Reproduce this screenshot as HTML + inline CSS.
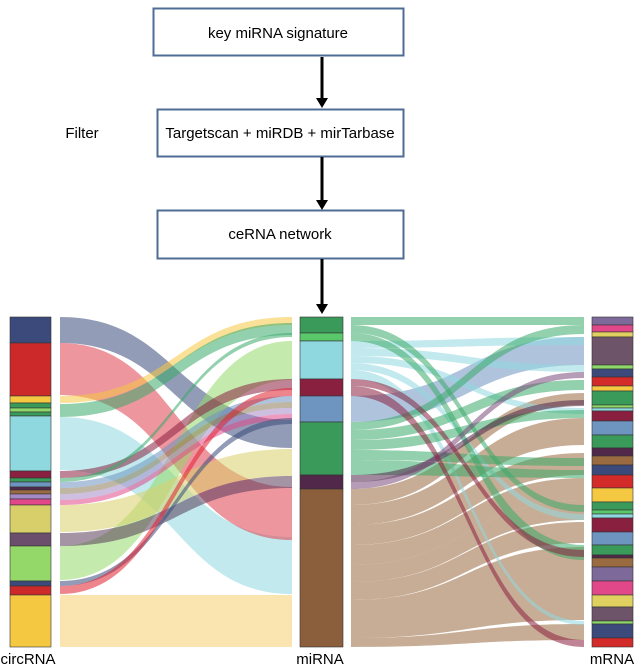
<!DOCTYPE html>
<html><head><meta charset="utf-8"><style>
html,body{margin:0;padding:0;background:#fff;}
svg{display:block;font-family:"Liberation Sans",Arial,sans-serif;}
</style></head><body>
<svg width="640" height="667" viewBox="0 0 640 667" xmlns="http://www.w3.org/2000/svg">
<defs><marker id="ah" markerWidth="8" markerHeight="8" refX="4" refY="7" orient="auto" markerUnits="userSpaceOnUse"><path d="M0,0 L8,0 L4,8 Z" fill="#000"/></marker></defs>
<!-- boxes -->
<rect x="153.5" y="8.5" width="250" height="47" fill="#fff" stroke="#4f6d94" stroke-width="2"/>
<text x="278" y="38" font-size="15" text-anchor="middle">key miRNA signature</text>
<rect x="157.5" y="109.5" width="246" height="47" fill="#fff" stroke="#4f6d94" stroke-width="2"/>
<text x="280" y="138" font-size="15" text-anchor="middle">Targetscan + miRDB + mirTarbase</text>
<text x="82" y="138" font-size="15" text-anchor="middle">Filter</text>
<rect x="157.5" y="210.5" width="246" height="48" fill="#fff" stroke="#4f6d94" stroke-width="2"/>
<text x="280" y="239" font-size="15" text-anchor="middle">ceRNA network</text>
<g stroke="#000" stroke-width="3">
<line x1="322" y1="57" x2="322" y2="100"/><line x1="322" y1="157" x2="322" y2="202"/><line x1="322" y1="259" x2="322" y2="306"/></g>
<g fill="#000"><path d="M316,98 L328,98 L322,108 Z"/><path d="M316,200 L328,200 L322,210 Z"/><path d="M316,304 L328,304 L322,314 Z"/></g>

<!-- left flows x 60->292 -->
<g fill-opacity="0.55">
<path d="M60,595 L292,595 L292,647 L60,647 Z" fill="#f5d070"/>
<path d="M60,417 C176,417 176,537 292,537 L292,594 C176,594 176,470 60,470 Z" fill="#8fd8e0"/>
<path d="M60,343 C176,343 176,487 292,487 L292,540 C176,540 176,395 60,395 Z" fill="#e0404f"/>
<path d="M60,317 C176,317 176,420 292,420 L292,448 C176,448 176,343 60,343 Z" fill="#3b4a7a"/>
<path d="M60,546 C176,546 176,341 292,341 L292,380 C176,380 176,580 60,580 Z" fill="#95d86a"/>
<path d="M60,505 C176,505 176,449 292,449 L292,476 C176,476 176,532 60,532 Z" fill="#d9cf6a"/>
<path d="M60,533 C176,533 176,476 292,476 L292,488 C176,488 176,546 60,546 Z" fill="#5a3c5a"/>
<path d="M60,396 C176,396 176,317 292,317 L292,325 C176,325 176,403 60,403 Z" fill="#f5c842"/>
<path d="M60,404 C176,404 176,323 292,323 L292,335 C176,335 176,417 60,417 Z" fill="#3aaa6a"/>
<path d="M60,471 C176,471 176,379 292,379 L292,390 C176,390 176,478 60,478 Z" fill="#8a2040"/>
<path d="M60,478 C176,478 176,333 292,333 L292,337 C176,337 176,482 60,482 Z" fill="#3aaa6a"/>
<path d="M60,482 C176,482 176,396 292,396 L292,402 C176,402 176,488 60,488 Z" fill="#6e94c0"/>
<path d="M60,488 C176,488 176,402 292,402 L292,408 C176,408 176,494 60,494 Z" fill="#8a7a5a"/>
<path d="M60,494 C176,494 176,408 292,408 L292,414 C176,414 176,500 60,500 Z" fill="#a58ac8"/>
<path d="M60,500 C176,500 176,414 292,414 L292,420 C176,420 176,505 60,505 Z" fill="#e0488a"/>
<path d="M60,581 C176,581 176,418 292,418 L292,424 C176,424 176,586 60,586 Z" fill="#3b4a7a"/>
<path d="M60,586 C176,586 176,388 292,388 L292,396 C176,396 176,594 60,594 Z" fill="#e0202f"/>
</g>

<!-- right flows x 351->584 -->
<g fill-opacity="0.55">
<path d="M351,489 C467,489 467,393 584,393 L584,405 C467,405 467,505 351,505 Z" fill="#9a6a40"/>
<path d="M351,505 C467,505 467,418 584,418 L584,445 C467,445 467,525 351,525 Z" fill="#9a6a40"/>
<path d="M351,525 C467,525 467,453 584,453 L584,475 C467,475 467,545 351,545 Z" fill="#9a6a40"/>
<path d="M351,545 C467,545 467,478 584,478 L584,500 C467,500 467,565 351,565 Z" fill="#9a6a40"/>
<path d="M351,565 C467,565 467,500 584,500 L584,520 C467,520 467,582 351,582 Z" fill="#9a6a40"/>
<path d="M351,582 C467,582 467,522 584,522 L584,543 C467,543 467,600 351,600 Z" fill="#9a6a40"/>
<path d="M351,600 C467,600 467,547 584,547 L584,620 C467,620 467,638 351,638 Z" fill="#9a6a40"/>
<path d="M351,638 C467,638 467,624 584,624 L584,640 C467,640 467,647 351,647 Z" fill="#9a6a40"/>
<path d="M351,317 L584,317 L584,325 L351,325 Z" fill="#3aaa6a"/>
<path d="M351,396 C467,396 467,337 584,337 L584,365 C467,365 467,422 351,422 Z" fill="#6e94c0"/>
<path d="M351,341 C467,341 467,337 584,337 L584,345 C467,345 467,348 351,348 Z" fill="#8fd8e0"/>
<path d="M351,348 C467,348 467,365 584,365 L584,372 C467,372 467,356 351,356 Z" fill="#8fd8e0"/>
<path d="M351,356 C467,356 467,408 584,408 L584,414 C467,414 467,363 351,363 Z" fill="#8fd8e0"/>
<path d="M351,363 C467,363 467,514 584,514 L584,520 C467,520 467,370 351,370 Z" fill="#8fd8e0"/>
<path d="M351,370 C467,370 467,621 584,621 L584,625 C467,625 467,379 351,379 Z" fill="#8fd8e0"/>
<path d="M351,325 C467,325 467,505 584,505 L584,512 C467,512 467,333 351,333 Z" fill="#3aaa6a"/>
<path d="M351,333 C467,333 467,545 584,545 L584,560 C467,560 467,341 351,341 Z" fill="#3aaa6a"/>
<path d="M351,422 C467,422 467,325 584,325 L584,334 C467,334 467,430 351,430 Z" fill="#3aaa6a"/>
<path d="M351,430 C467,430 467,380 584,380 L584,390 C467,390 467,440 351,440 Z" fill="#3aaa6a"/>
<path d="M351,440 C467,440 467,410 584,410 L584,418 C467,418 467,450 351,450 Z" fill="#3aaa6a"/>
<path d="M351,450 C467,450 467,458 584,458 L584,466 C467,466 467,460 351,460 Z" fill="#3aaa6a"/>
<path d="M351,460 C467,460 467,470 584,470 L584,478 C467,478 467,475 351,475 Z" fill="#3aaa6a"/>
<path d="M351,475 C467,475 467,400 584,400 L584,406 C467,406 467,482 351,482 Z" fill="#52284a"/>
<path d="M351,482 C467,482 467,372 584,372 L584,378 C467,378 467,489 351,489 Z" fill="#7a4a7a"/>
<path d="M351,379 C467,379 467,550 584,550 L584,557 C467,557 467,386 351,386 Z" fill="#8a2040"/>
<path d="M351,386 C467,386 467,640 584,640 L584,647 C467,647 467,396 351,396 Z" fill="#8a2040"/>
</g>

<!-- bars -->
<g stroke="#333" stroke-width="0.6">
<rect x="10" y="317" width="41" height="26" fill="#3b4a7a"/>
<rect x="10" y="343" width="41" height="53" fill="#cc2a2a"/>
<rect x="10" y="396" width="41" height="7" fill="#f5c842"/>
<rect x="10" y="403" width="41" height="5" fill="#3a9a5a"/>
<rect x="10" y="408" width="41" height="4" fill="#8ed86a"/>
<rect x="10" y="412" width="41" height="4" fill="#3a9a5a"/>
<rect x="10" y="416" width="41" height="55" fill="#8fd8e0"/>
<rect x="10" y="471" width="41" height="7" fill="#8a2040"/>
<rect x="10" y="478" width="41" height="4" fill="#3a9a5a"/>
<rect x="10" y="482" width="41" height="5" fill="#6e94c0"/>
<rect x="10" y="487" width="41" height="3" fill="#52284a"/>
<rect x="10" y="490" width="41" height="4" fill="#9a6a40"/>
<rect x="10" y="494" width="41" height="5" fill="#a58ac8"/>
<rect x="10" y="499" width="41" height="6" fill="#e0488a"/>
<rect x="10" y="505" width="41" height="28" fill="#d9cf6a"/>
<rect x="10" y="533" width="41" height="13" fill="#6b4e6b"/>
<rect x="10" y="546" width="41" height="35" fill="#95d86a"/>
<rect x="10" y="581" width="41" height="5" fill="#3b4a7a"/>
<rect x="10" y="586" width="41" height="9" fill="#cc2a2a"/>
<rect x="10" y="595" width="41" height="52" fill="#f5c842"/>

<rect x="300" y="317" width="43" height="16" fill="#3a9a5a"/>
<rect x="300" y="333" width="43" height="8" fill="#5ac86a"/>
<rect x="300" y="341" width="43" height="38" fill="#8fd8e0"/>
<rect x="300" y="379" width="43" height="17" fill="#8a2040"/>
<rect x="300" y="396" width="43" height="26" fill="#6e94c0"/>
<rect x="300" y="422" width="43" height="53" fill="#3a9a5a"/>
<rect x="300" y="475" width="43" height="14" fill="#52284a"/>
<rect x="300" y="489" width="43" height="158" fill="#8b5e3c"/>

<rect x="592" y="317" width="41" height="8" fill="#7d6a9a"/>
<rect x="592" y="325" width="41" height="7" fill="#e0488a"/>
<rect x="592" y="332" width="41" height="5" fill="#e0d060"/>
<rect x="592" y="337" width="41" height="28" fill="#6e5468"/>
<rect x="592" y="365" width="41" height="4" fill="#8ed86a"/>
<rect x="592" y="369" width="41" height="8" fill="#3b4a7a"/>
<rect x="592" y="377" width="41" height="9" fill="#d32a2a"/>
<rect x="592" y="386" width="41" height="5" fill="#f5c842"/>
<rect x="592" y="391" width="41" height="14" fill="#3a9a5a"/>
<rect x="592" y="405" width="41" height="3" fill="#8ed86a"/>
<rect x="592" y="408" width="41" height="3" fill="#8fd8e0"/>
<rect x="592" y="411" width="41" height="10" fill="#8a2040"/>
<rect x="592" y="421" width="41" height="14" fill="#6e94c0"/>
<rect x="592" y="435" width="41" height="13" fill="#3a9a5a"/>
<rect x="592" y="448" width="41" height="8" fill="#52284a"/>
<rect x="592" y="456" width="41" height="9" fill="#9a6a40"/>
<rect x="592" y="465" width="41" height="10" fill="#3b4a7a"/>
<rect x="592" y="475" width="41" height="13" fill="#d32a2a"/>
<rect x="592" y="488" width="41" height="14" fill="#f5c842"/>
<rect x="592" y="502" width="41" height="8" fill="#3a9a5a"/>
<rect x="592" y="510" width="41" height="4" fill="#5ac86a"/>
<rect x="592" y="514" width="41" height="4" fill="#8fd8e0"/>
<rect x="592" y="518" width="41" height="14" fill="#8a2040"/>
<rect x="592" y="532" width="41" height="13" fill="#6e94c0"/>
<rect x="592" y="545" width="41" height="10" fill="#3a9a5a"/>
<rect x="592" y="555" width="41" height="3" fill="#52284a"/>
<rect x="592" y="558" width="41" height="9" fill="#9a6a40"/>
<rect x="592" y="567" width="41" height="14" fill="#7d6a9a"/>
<rect x="592" y="581" width="41" height="14" fill="#e0488a"/>
<rect x="592" y="595" width="41" height="12" fill="#e0d060"/>
<rect x="592" y="607" width="41" height="14" fill="#6e5468"/>
<rect x="592" y="621" width="41" height="3" fill="#8ed86a"/>
<rect x="592" y="624" width="41" height="14" fill="#3b4a7a"/>
<rect x="592" y="638" width="41" height="9" fill="#d32a2a"/>
</g>

<text x="28" y="664" font-size="15" text-anchor="middle">circRNA</text>
<text x="320" y="664" font-size="15" text-anchor="middle">miRNA</text>
<text x="612" y="664" font-size="15" text-anchor="middle">mRNA</text>
</svg>
</body></html>
